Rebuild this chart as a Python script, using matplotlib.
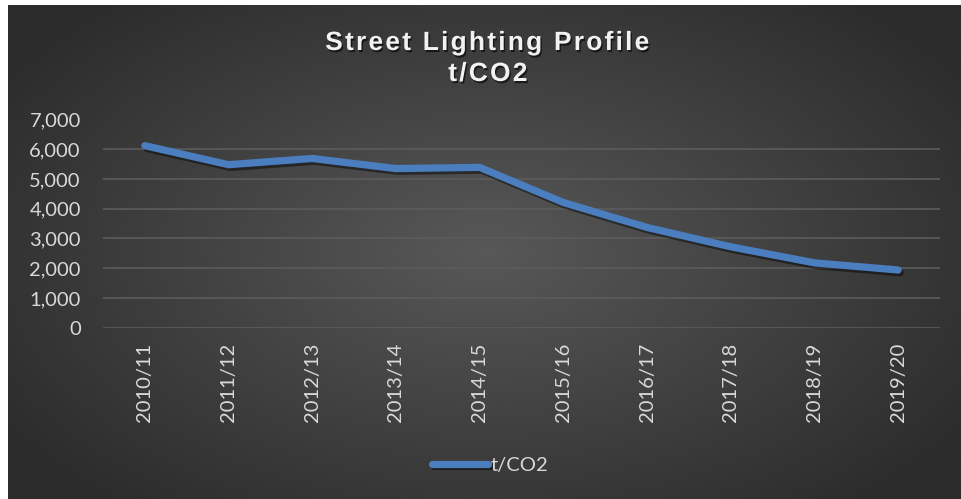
import numpy as np
import matplotlib.pyplot as plt
import matplotlib.patheffects as pe

# data
years = ['2010/11', '2011/12', '2012/13', '2013/14', '2014/15',
         '2015/16', '2016/17', '2017/18', '2018/19', '2019/20']
tco2 = [6120, 5480, 5690, 5350, 5390, 4210, 3370, 2720, 2180, 1940]
yticks = [0, 1000, 2000, 3000, 4000, 5000, 6000, 7000]

W, H = 962, 499
fig = plt.figure(figsize=(W / 100, H / 100), dpi=100)
fig.patch.set_facecolor('white')

# radial gradient background (Excel dark style), white strip left/top
bg = fig.add_axes([8 / W, 0, 1 - 8 / W, 1 - 5 / H], zorder=-5)
gx, gy = np.meshgrid(np.linspace(-1, 1, 400), np.linspace(-1, 1, 200))
r = np.sqrt((gx * 1.0) ** 2 + (gy * 0.9) ** 2)
shade = 0.345 - 0.17 * np.clip(r / 1.2, 0, 1)
bg.imshow(shade, cmap='gray', vmin=0, vmax=1, aspect='auto',
          extent=[0, 1, 0, 1], interpolation='bicubic')
bg.axis('off')

ax = fig.add_axes([103 / W, 1 - 327.7 / H, (940 - 103) / W, (327.7 - 119.5) / H])
ax.patch.set_alpha(0)

x = np.arange(len(years))
ax.plot(x, tco2, color='#4a7ebf', lw=5.2, solid_capstyle='round',
        solid_joinstyle='round', label='t/CO2',
        path_effects=[pe.SimpleLineShadow(offset=(1.5, -2), shadow_color='black', alpha=0.45),
                      pe.Normal()])

ax.set_xlim(-0.5, len(years) - 0.5)
ax.set_ylim(0, 7000)
ax.set_yticks(yticks)
ax.set_yticklabels([f'{v:,}' for v in yticks])
ax.set_xticks(x)
ax.set_xticklabels(years, rotation=90)
ax.grid(axis='y', color='#5c5c5c', lw=1.2)
ax.set_axisbelow(True)
for s in ax.spines.values():
    s.set_visible(False)
ax.tick_params(length=0, colors='#d9d9d9', labelsize=14.5)
ax.tick_params(axis='y', pad=16)
ax.tick_params(axis='x', pad=11)
for lab in ax.get_xticklabels() + ax.get_yticklabels():
    lab.set_family(['Lato', 'DejaVu Sans'])
    lab.set_color('#d9d9d9')

# title with slight letter spacing
sp = '\u200a'
t1 = sp.join('Street Lighting Profile')
t2 = sp.join('t/CO2')
for txt, yy in [(t1, 50), (t2, 81)]:
    fig.text(488 / W, 1 - yy / H, txt, ha='center', va='baseline', color='#f2f2f2',
             fontsize=19, fontweight='bold', family=['Liberation Sans', 'DejaVu Sans'],
             path_effects=[pe.withSimplePatchShadow(offset=(1, -1.5), shadow_rgbFace='black', alpha=0.6)])

leg = fig.legend(loc='center', bbox_to_anchor=(490 / W, 1 - 465 / H), frameon=False,
                 handlelength=2.8, handletextpad=0.1,
                 prop={'family': ['Lato', 'DejaVu Sans'], 'size': 14.5})
for t in leg.get_texts():
    t.set_color('#d9d9d9')

fig.savefig('out.png', dpi=100, facecolor=fig.get_facecolor())
